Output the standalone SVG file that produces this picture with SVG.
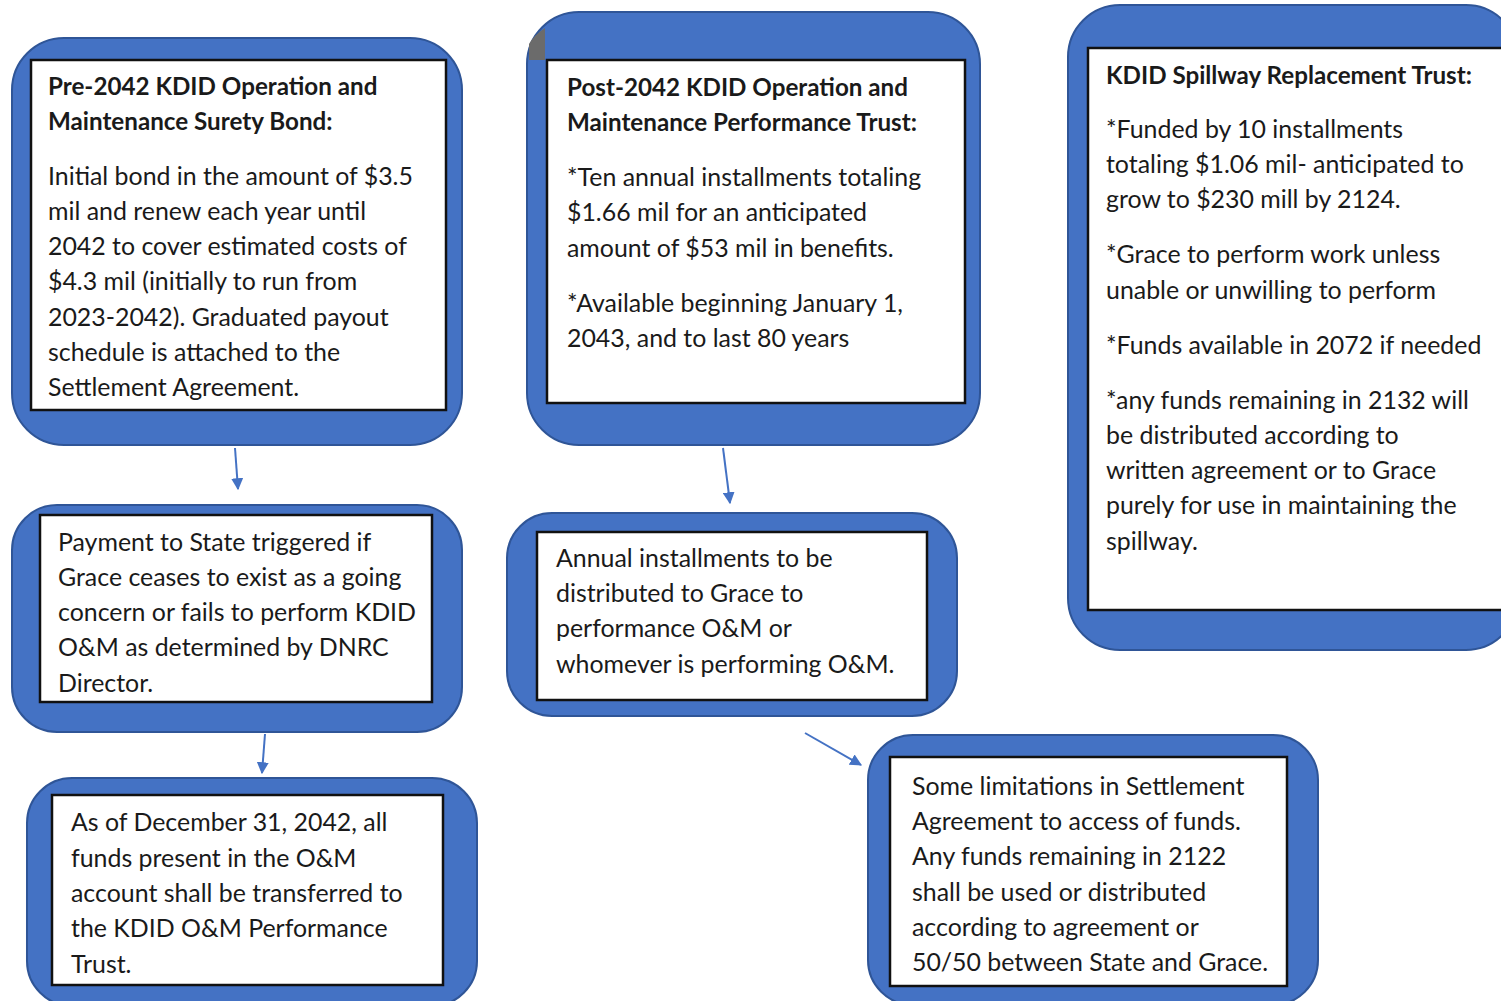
<svg xmlns="http://www.w3.org/2000/svg" width="1501" height="1001" viewBox="0 0 1501 1001">
<style>
.outer{fill:#4472C4;stroke:#2F5597;stroke-width:2}
.inner{fill:#ffffff;stroke:#111111;stroke-width:2.5}
.t{font-family:Lato,"Liberation Sans",sans-serif;font-size:24.9px;fill:#1a1a1a}
.b{font-weight:bold;font-size:24.2px}
.conn{stroke:#4472C4;stroke-width:2;fill:none}
</style>
<defs>
<marker id="ah" viewBox="0 0 10 10" refX="9" refY="5" markerWidth="6" markerHeight="6" orient="auto" markerUnits="strokeWidth">
<path d="M0,0 L10,5 L0,10 z" fill="#4472C4"/>
</marker>
</defs>
<rect width="1501" height="1001" fill="#ffffff"/>

<g id="node-pre2042">
<rect class="outer" x="12" y="38" width="450" height="407" rx="52"/>
<rect class="inner" x="31" y="60" width="415" height="350"/>
<text class="t b" x="48" y="95">Pre-2042 KDID Operation and</text>
<text class="t b" x="48" y="130">Maintenance Surety Bond:</text>
<text class="t" x="48" y="185">Initial bond in the amount of $3.5</text>
<text class="t" x="48" y="220">mil and renew each year until</text>
<text class="t" x="48" y="255">2042 to cover estimated costs of</text>
<text class="t" x="48" y="290">$4.3 mil (initially to run from</text>
<text class="t" x="48" y="326">2023-2042). Graduated payout</text>
<text class="t" x="48" y="361">schedule is attached to the</text>
<text class="t" x="48" y="396">Settlement Agreement.</text>
</g>

<g id="node-post2042">
<rect class="outer" x="527" y="12" width="453" height="433" rx="52"/>
<path d="M529,60 L529,44 Q533,36 545,28 L545,60 z" fill="#6b6b6b"/>
<rect class="inner" x="547" y="60" width="418" height="343"/>
<text class="t b" x="567" y="96">Post-2042 KDID Operation and</text>
<text class="t b" x="567" y="131">Maintenance Performance Trust:</text>
<text class="t" x="567" y="186">*Ten annual installments totaling</text>
<text class="t" x="567" y="221">$1.66 mil for an anticipated</text>
<text class="t" x="567" y="257">amount of $53 mil in benefits.</text>
<text class="t" x="567" y="312">*Available beginning January 1,</text>
<text class="t" x="567" y="347">2043, and to last 80 years</text>
</g>

<g id="node-spillway">
<rect class="outer" x="1068" y="5" width="450" height="645" rx="52"/>
<rect class="inner" x="1088" y="48" width="420" height="562"/>
<text class="t b" x="1106" y="84">KDID Spillway Replacement Trust:</text>
<text class="t" x="1106" y="138">*Funded by 10 installments</text>
<text class="t" x="1106" y="173">totaling $1.06 mil- anticipated to</text>
<text class="t" x="1106" y="208">grow to $230 mill by 2124.</text>
<text class="t" x="1106" y="263">*Grace to perform work unless</text>
<text class="t" x="1106" y="299">unable or unwilling to perform</text>
<text class="t" x="1106" y="354">*Funds available in 2072 if needed</text>
<text class="t" x="1106" y="409">*any funds remaining in 2132 will</text>
<text class="t" x="1106" y="444">be distributed according to</text>
<text class="t" x="1106" y="479">written agreement or to Grace</text>
<text class="t" x="1106" y="514">purely for use in maintaining the</text>
<text class="t" x="1106" y="550">spillway.</text>
</g>

<g id="node-payment">
<rect class="outer" x="12" y="505" width="450" height="227" rx="45"/>
<rect class="inner" x="40" y="515" width="392" height="187"/>
<text class="t" x="58" y="551">Payment to State triggered if</text>
<text class="t" x="58" y="586">Grace ceases to exist as a going</text>
<text class="t" x="58" y="621">concern or fails to perform  KDID</text>
<text class="t" x="58" y="656">O&amp;M as determined by DNRC</text>
<text class="t" x="58" y="692">Director.</text>
</g>

<g id="node-annual">
<rect class="outer" x="507" y="513" width="450" height="203" rx="45"/>
<rect class="inner" x="537" y="532" width="390" height="168"/>
<text class="t" x="556" y="567">Annual installments to be</text>
<text class="t" x="556" y="602">distributed to Grace to</text>
<text class="t" x="556" y="637">performance O&amp;M or</text>
<text class="t" x="556" y="673">whomever is performing O&amp;M.</text>
</g>

<g id="node-dec31">
<rect class="outer" x="27" y="778" width="450" height="228" rx="45"/>
<rect class="inner" x="52" y="795" width="391" height="190"/>
<text class="t" x="71" y="831">As of December 31, 2042, all</text>
<text class="t" x="71" y="867">funds present in the O&amp;M</text>
<text class="t" x="71" y="902">account shall be transferred to</text>
<text class="t" x="71" y="937">the KDID O&amp;M Performance</text>
<text class="t" x="71" y="973">Trust.</text>
</g>

<g id="node-limitations">
<rect class="outer" x="868" y="735" width="450" height="270" rx="45"/>
<rect class="inner" x="890" y="757" width="397" height="229"/>
<text class="t" x="912" y="795">Some limitations in Settlement</text>
<text class="t" x="912" y="830">Agreement to access of funds.</text>
<text class="t" x="912" y="865">Any funds remaining in 2122</text>
<text class="t" x="912" y="901">shall be used or distributed</text>
<text class="t" x="912" y="936">according to agreement or</text>
<text class="t" x="912" y="971">50/50 between State and Grace.</text>
</g>

<g id="connectors">
<line class="conn" x1="235" y1="448" x2="238" y2="489" marker-end="url(#ah)"/>
<line class="conn" x1="723" y1="448" x2="730" y2="503" marker-end="url(#ah)"/>
<line class="conn" x1="265" y1="734" x2="262" y2="773" marker-end="url(#ah)"/>
<line class="conn" x1="805" y1="733" x2="861" y2="765" marker-end="url(#ah)"/>
</g>
</svg>
